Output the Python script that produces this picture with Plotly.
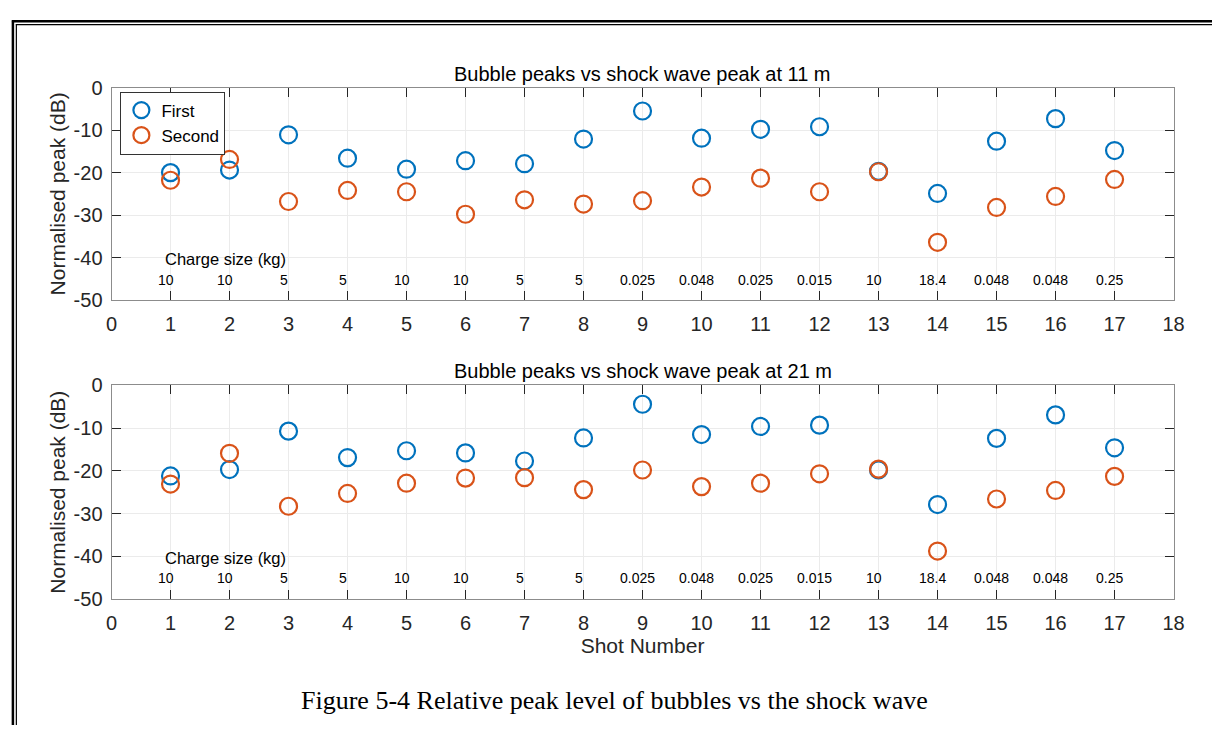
import plotly.graph_objects as go

W, H = 1223, 736

shots = list(range(1, 18))
charge_labels = ["10", "10", "5", "5", "10", "10", "5", "5", "0.025", "0.048",
                 "0.025", "0.015", "10", "18.4", "0.048", "0.048", "0.25"]

first_11m = [-20.0, -19.4, -11.1, -16.6, -19.2, -17.2, -17.9, -12.1, -5.5,
             -11.9, -9.8, -9.2, -19.7, -24.9, -12.6, -7.3, -14.8]
second_11m = [-21.8, -16.9, -26.8, -24.2, -24.5, -29.8, -26.4, -27.4, -26.6,
              -23.4, -21.3, -24.5, -19.8, -36.4, -28.2, -25.6, -21.6]

first_21m = [-21.2, -19.7, -10.7, -16.9, -15.3, -15.8, -17.7, -12.3, -4.4,
             -11.5, -9.6, -9.3, -19.8, -27.9, -12.4, -6.9, -14.6]
second_21m = [-23.1, -15.9, -28.3, -25.3, -22.9, -21.7, -21.6, -24.4, -19.8,
              -23.7, -22.9, -20.7, -19.6, -38.8, -26.6, -24.6, -21.3]

titles = ["Bubble peaks vs shock wave peak at 11 m",
          "Bubble peaks vs shock wave peak at 21 m"]
x_ticks = list(range(0, 19))
y_ticks = [0, -10, -20, -30, -40, -50]
y_tick_text = ["0", "-10", "-20", "-30", "-40", "-50"]
label_y = -45.2
charge_title_y = -40.4

BLUE = "#0072BD"
ORANGE = "#D95319"
AXC = "#262626"
FONT = "Liberation Sans, Arial, sans-serif"


def px(x):
    return x / W


def py(y):
    return 1 - y / H


x_dom = [px(107), px(1184)]
y_dom_top = [py(298), py(79)]
y_dom_bot = [py(606), py(386)]

fig = go.Figure()

panels = [(first_11m, second_11m, "x", "y", True),
          (first_21m, second_21m, "x2", "y2", False)]
for first, second, xa, ya, show in panels:
    fig.add_trace(go.Scatter(
        x=shots, y=first, mode="markers", name="First", xaxis=xa, yaxis=ya,
        showlegend=show,
        marker=dict(symbol="circle-open", size=17, color=BLUE,
                    line=dict(width=2.2, color=BLUE))))
    fig.add_trace(go.Scatter(
        x=shots, y=second, mode="markers", name="Second", xaxis=xa, yaxis=ya,
        showlegend=show,
        marker=dict(symbol="circle-open", size=17, color=ORANGE,
                    line=dict(width=2.2, color=ORANGE))))

axis_common = dict(
    showline=True, linecolor="#8c8c8c", linewidth=1, mirror="ticks",
    ticks="inside", ticklen=9, tickcolor=AXC, tickwidth=1,
    showgrid=True, gridcolor="#ebebeb", gridwidth=1, zeroline=False,
    tickfont=dict(family=FONT, size=20, color=AXC),
)
xcommon = dict(range=[0, 18], tickvals=x_ticks, ticklabelstandoff=6, **axis_common)
ycommon = dict(range=[-50, 0], tickvals=y_ticks, ticktext=y_tick_text,
               ticklabelstandoff=4, **axis_common)
ytitle = dict(text="Normalised peak (dB)", standoff=2,
              font=dict(family=FONT, size=21, color=AXC))

fig.update_layout(
    width=W, height=H, margin=dict(l=0, r=0, t=0, b=0),
    paper_bgcolor="white", plot_bgcolor="white",
    showlegend=True,
    legend=dict(x=px(116), y=py(83), xanchor="left", yanchor="top",
                bgcolor="white", bordercolor="#333333", borderwidth=1,
                font=dict(family=FONT, size=17, color="black"),
                itemwidth=30, tracegroupgap=0),
    xaxis=dict(domain=x_dom, anchor="y", **xcommon),
    yaxis=dict(domain=y_dom_top, anchor="x", title=ytitle, **ycommon),
    xaxis2=dict(domain=x_dom, anchor="y2",
                title=dict(text="Shot Number", standoff=2,
                           font=dict(family=FONT, size=21, color=AXC)),
                **xcommon),
    yaxis2=dict(domain=y_dom_bot, anchor="x2", title=ytitle, **ycommon),
)

annotations = []
for i, (xr, yr, dom) in enumerate([("x", "y", y_dom_top), ("x2", "y2", y_dom_bot)]):
    annotations.append(dict(
        text=titles[i], xref="paper", yref="paper",
        x=(x_dom[0] + x_dom[1]) / 2, y=dom[1], xanchor="center", yanchor="bottom",
        yshift=1, showarrow=False,
        font=dict(family=FONT, size=20, color="black")))
    annotations.append(dict(
        text="Charge size (kg)", xref=xr, yref=yr, x=0.88, y=charge_title_y,
        xanchor="left", yanchor="middle", showarrow=False,
        font=dict(family=FONT, size=16.5, color="black")))
    for s, lab in zip(shots, charge_labels):
        annotations.append(dict(
            text=lab, xref=xr, yref=yr, x=s - 0.08, y=label_y,
            xanchor="center", yanchor="middle", showarrow=False,
            font=dict(family=FONT, size=14, color="black")))

annotations.append(dict(
    text="Figure 5-4 Relative peak level of bubbles vs the shock wave",
    xref="paper", yref="paper", x=px(617), y=py(711),
    xanchor="center", yanchor="middle", showarrow=False,
    font=dict(family="Liberation Serif, Times New Roman, serif", size=26, color="black")))
fig.update_layout(annotations=annotations)

# document frame (double lines on top and left)
shapes = [
    dict(type="line", xref="paper", yref="paper", x0=px(6), x1=1.0,
         y0=py(10.5), y1=py(10.5), line=dict(color="black", width=2.5)),
    dict(type="line", xref="paper", yref="paper", x0=px(10), x1=1.0,
         y0=py(14), y1=py(14), line=dict(color="black", width=1.2)),
    dict(type="line", xref="paper", yref="paper", x0=px(7), x1=px(7),
         y0=py(9.5), y1=0, line=dict(color="black", width=2.5)),
    dict(type="line", xref="paper", yref="paper", x0=px(10.5), x1=px(10.5),
         y0=py(13.5), y1=0, line=dict(color="black", width=1.2)),
]
fig.update_layout(shapes=shapes)

fig.write_html("out.html")
